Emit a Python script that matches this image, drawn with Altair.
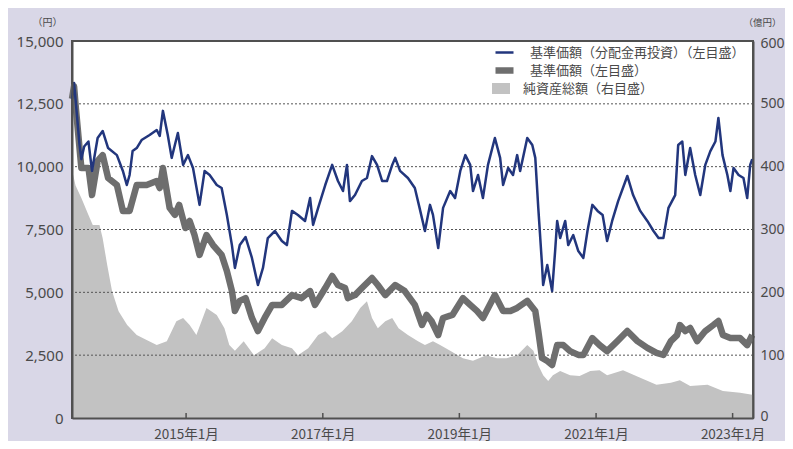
import altair as alt
import pandas as pd

FONT = "Noto Sans CJK JP"
NUM_FONT = "Noto Sans"

NAV_RE_LABEL = "基準価額（分配金再投資）（左目盛）"
NAV_LABEL = "基準価額（左目盛）"
AUM_LABEL = "純資産総額（右目盛）"

# 基準価額(分配金再投資) (円)
nav_reinvested = [
    ("2013-05-01", 12700), ("2013-05-12", 13330), ("2013-05-22", 12500),
    ("2013-06-10", 10900), ("2013-06-20", 10300), ("2013-07-05", 10800),
    ("2013-07-28", 11000), ("2013-08-16", 9830), ("2013-09-15", 11140),
    ("2013-10-12", 11420), ("2013-11-10", 10740), ("2013-12-27", 10460),
    ("2014-01-28", 9830), ("2014-02-18", 9270), ("2014-03-05", 9670),
    ("2014-03-21", 10620), ("2014-04-12", 10740), ("2014-05-08", 11060),
    ("2014-06-20", 11260), ("2014-07-28", 11460), ("2014-08-13", 11220),
    ("2014-08-30", 12220), ("2014-09-25", 11260), ("2014-10-16", 10350),
    ("2014-11-02", 10860), ("2014-11-18", 11340), ("2014-12-16", 10070),
    ("2015-01-11", 10460), ("2015-02-07", 9950), ("2015-03-14", 8480),
    ("2015-04-10", 9830), ("2015-05-07", 9670), ("2015-06-14", 9270),
    ("2015-07-10", 9150), ("2015-08-07", 8080), ("2015-09-03", 6880),
    ("2015-09-19", 5970), ("2015-10-15", 6880), ("2015-11-15", 7200),
    ("2015-12-19", 6370), ("2016-01-20", 5290), ("2016-02-16", 5970),
    ("2016-03-13", 7160), ("2016-04-20", 7440), ("2016-05-27", 7040),
    ("2016-06-23", 6880), ("2016-07-20", 8240), ("2016-08-21", 8080),
    ("2016-09-28", 7840), ("2016-10-25", 8750), ("2016-11-10", 7680),
    ("2016-12-07", 8360), ("2017-01-14", 9270), ("2017-02-20", 10070),
    ("2017-03-23", 9430), ("2017-04-19", 9030), ("2017-05-10", 10070),
    ("2017-05-26", 8630), ("2017-06-22", 8870), ("2017-07-29", 9430),
    ("2017-08-25", 9550), ("2017-09-21", 10420), ("2017-10-18", 10070),
    ("2017-11-14", 9430), ("2017-12-10", 9430), ("2018-01-07", 10070),
    ("2018-01-23", 10350), ("2018-02-18", 9830), ("2018-04-01", 9550),
    ("2018-05-08", 9150), ("2018-06-01", 8400), ("2018-07-01", 7440),
    ("2018-07-28", 8480), ("2018-08-13", 8080), ("2018-09-10", 6760),
    ("2018-10-06", 8360), ("2018-11-13", 9030), ("2018-12-09", 8750),
    ("2019-01-06", 9830), ("2019-02-02", 10460), ("2019-02-28", 10070),
    ("2019-03-15", 9030), ("2019-04-11", 9670), ("2019-05-07", 8750),
    ("2019-06-03", 10070), ("2019-07-10", 11140), ("2019-08-07", 10350),
    ("2019-08-23", 9270), ("2019-09-19", 9950), ("2019-10-15", 9670),
    ("2019-11-06", 10460), ("2019-11-22", 9830), ("2019-12-30", 11140),
    ("2020-01-26", 10860), ("2020-02-11", 10350), ("2020-02-27", 8360),
    ("2020-03-18", 6090), ("2020-03-24", 5290), ("2020-04-15", 6090),
    ("2020-05-11", 5050), ("2020-05-27", 6640), ("2020-06-07", 7840),
    ("2020-06-23", 7160), ("2020-07-20", 7840), ("2020-08-05", 6880),
    ("2020-09-01", 7280), ("2020-09-28", 6640), ("2020-10-25", 6370),
    ("2020-11-16", 7440), ("2020-12-12", 8480), ("2021-01-09", 8240),
    ("2021-02-05", 8080), ("2021-03-01", 7040), ("2021-03-28", 7840),
    ("2021-04-29", 8630), ("2021-06-17", 9630), ("2021-07-18", 8870),
    ("2021-08-25", 8240), ("2021-10-02", 7840), ("2021-11-04", 7440),
    ("2021-12-01", 7160), ("2021-12-27", 7160), ("2022-01-23", 8360),
    ("2022-02-28", 8870), ("2022-03-16", 10860), ("2022-04-07", 11000),
    ("2022-04-23", 9670), ("2022-05-19", 10740), ("2022-06-15", 9670),
    ("2022-07-12", 8870), ("2022-08-08", 10070), ("2022-09-04", 10620),
    ("2022-10-01", 11000), ("2022-10-17", 11940), ("2022-11-08", 10460),
    ("2022-12-04", 9670), ("2022-12-20", 9030), ("2023-01-06", 9950),
    ("2023-02-02", 9670), ("2023-02-28", 9550), ("2023-03-20", 8750),
    ("2023-04-05", 10070), ("2023-04-16", 10300),
]

# 基準価額 (円)
nav = [
    ("2013-05-01", 12700), ("2013-05-12", 13200), ("2013-05-22", 12300),
    ("2013-06-20", 9950), ("2013-07-28", 9950), ("2013-08-16", 8870),
    ("2013-09-15", 10230), ("2013-10-12", 10460), ("2013-11-10", 9550),
    ("2013-12-27", 9270), ("2014-01-28", 8240), ("2014-03-05", 8240),
    ("2014-04-12", 9270), ("2014-06-04", 9270), ("2014-07-28", 9430),
    ("2014-08-13", 9150), ("2014-08-30", 9950), ("2014-10-05", 8360),
    ("2014-11-02", 8080), ("2014-11-25", 8480), ("2014-12-28", 7560),
    ("2015-01-20", 7840), ("2015-02-15", 7280), ("2015-03-14", 6490),
    ("2015-04-20", 7280), ("2015-05-25", 6880), ("2015-07-10", 6490),
    ("2015-08-07", 5850), ("2015-09-03", 5050), ("2015-09-19", 4260),
    ("2015-10-15", 4660), ("2015-11-15", 4770), ("2015-12-19", 3980),
    ("2016-01-20", 3460), ("2016-02-25", 3980), ("2016-04-05", 4500),
    ("2016-05-27", 4500), ("2016-07-20", 4890), ("2016-09-10", 4770),
    ("2016-10-25", 5050), ("2016-11-20", 4500), ("2017-01-14", 5170),
    ("2017-02-20", 5650), ("2017-03-23", 5290), ("2017-04-30", 5170),
    ("2017-05-15", 4770), ("2017-06-22", 4890), ("2017-07-29", 5170),
    ("2017-09-21", 5570), ("2017-10-22", 5290), ("2017-12-01", 4890),
    ("2018-01-23", 5290), ("2018-03-15", 5050), ("2018-05-08", 4500),
    ("2018-06-15", 3700), ("2018-07-10", 4100), ("2018-08-05", 3860),
    ("2018-09-10", 3300), ("2018-10-06", 3980), ("2018-11-25", 4100),
    ("2019-01-20", 4770), ("2019-02-28", 4500), ("2019-04-05", 4260),
    ("2019-05-07", 3980), ("2019-07-10", 4890), ("2019-08-23", 4260),
    ("2019-10-01", 4260), ("2019-11-06", 4380), ("2019-12-30", 4660),
    ("2020-02-11", 4260), ("2020-02-27", 3460), ("2020-03-18", 2390),
    ("2020-04-15", 2270), ("2020-05-11", 2110), ("2020-06-07", 2900),
    ("2020-07-10", 2900), ("2020-08-15", 2660), ("2020-09-28", 2510),
    ("2020-10-25", 2510), ("2020-12-12", 3180), ("2021-01-20", 2900),
    ("2021-03-01", 2660), ("2021-04-25", 3060), ("2021-06-17", 3460),
    ("2021-08-10", 3060), ("2021-10-02", 2790), ("2021-11-20", 2590),
    ("2021-12-27", 2510), ("2022-02-05", 3060), ("2022-03-10", 3300),
    ("2022-03-25", 3700), ("2022-04-23", 3460), ("2022-05-19", 3580),
    ("2022-06-25", 3060), ("2022-08-08", 3460), ("2022-09-20", 3700),
    ("2022-10-17", 3860), ("2022-11-10", 3300), ("2022-12-20", 3180),
    ("2023-02-10", 3180), ("2023-03-20", 2900), ("2023-04-16", 3300),
]

# 純資産総額 (億円)
aum = [
    ("2013-05-01", 395), ("2013-05-20", 370), ("2013-06-20", 350),
    ("2013-07-28", 323), ("2013-08-20", 307), ("2013-09-25", 307),
    ("2013-10-12", 286), ("2013-11-05", 244), ("2013-12-01", 202),
    ("2014-01-05", 170), ("2014-02-20", 148), ("2014-04-12", 132),
    ("2014-06-04", 124), ("2014-07-28", 116), ("2014-09-20", 122),
    ("2014-11-10", 154), ("2014-12-16", 159), ("2015-01-20", 148),
    ("2015-02-25", 132), ("2015-04-20", 175), ("2015-06-14", 164),
    ("2015-07-25", 143), ("2015-08-20", 116), ("2015-09-19", 107),
    ("2015-11-05", 122), ("2015-12-30", 100), ("2016-02-25", 111),
    ("2016-04-05", 127), ("2016-05-27", 116), ("2016-07-20", 111),
    ("2016-08-21", 100), ("2016-10-15", 111), ("2016-12-07", 132),
    ("2017-01-14", 138), ("2017-02-20", 127), ("2017-04-15", 138),
    ("2017-06-05", 154), ("2017-07-20", 175), ("2017-08-25", 186),
    ("2017-09-21", 159), ("2017-10-22", 143), ("2017-12-01", 154),
    ("2018-01-07", 159), ("2018-02-10", 143), ("2018-04-01", 132),
    ("2018-05-25", 122), ("2018-07-01", 116), ("2018-08-13", 122),
    ("2018-09-20", 116), ("2018-11-13", 107), ("2019-01-20", 95),
    ("2019-03-15", 91), ("2019-05-25", 100), ("2019-07-20", 95),
    ("2019-09-10", 95), ("2019-11-06", 100), ("2019-12-30", 116),
    ("2020-02-01", 107), ("2020-02-27", 84), ("2020-03-24", 68),
    ("2020-04-20", 59), ("2020-05-15", 68), ("2020-06-23", 75),
    ("2020-08-15", 68), ("2020-10-05", 67), ("2020-12-01", 75),
    ("2021-01-20", 76), ("2021-03-01", 68), ("2021-05-25", 76),
    ("2021-08-25", 64), ("2021-11-20", 53), ("2022-02-05", 56),
    ("2022-03-25", 60), ("2022-05-19", 51), ("2022-08-20", 53),
    ("2022-11-10", 43), ("2023-02-10", 40), ("2023-04-16", 37),
]

x_domain = ["2013-05-01", "2023-04-20"]
tick_years = [2015, 2017, 2019, 2021, 2023]
left_ticks = [0, 2500, 5000, 7500, 10000, 12500, 15000]
grid_values = [2500, 5000, 7500, 10000, 12500]
right_ticks = [0, 100, 200, 300, 400, 500, 600]

re_df = pd.DataFrame(nav_reinvested, columns=["date", "value"])
re_df["series"] = NAV_RE_LABEL
nav_df = pd.DataFrame(nav, columns=["date", "value"])
nav_df["series"] = NAV_LABEL
aum_df = pd.DataFrame(aum, columns=["date", "aum"])
aum_df["label"] = AUM_LABEL
grid_df = pd.DataFrame({"v": grid_values})
tick_df = pd.DataFrame({"date": [f"{y}-01-01" for y in tick_years]})

W, H = 681, 377
BORDER = "#505050"
TEXT = "#4a4a4a"

x_enc = alt.X(
    "date:T",
    scale=alt.Scale(domain=x_domain),
    axis=alt.Axis(
        values=[alt.DateTime(year=y, month=1, date=1) for y in tick_years],
        format="%Y年%-m月",
        labelFont=FONT, labelFontSize=13.5, labelColor=TEXT,
        tickSize=0, labelPadding=9, grid=False,
        domain=True, domainColor=BORDER, domainWidth=2, zindex=1,
        title=None,
    ),
)

left_axis = alt.Axis(
    orient="left", values=left_ticks, format=",d",
    labelFont=NUM_FONT, labelFontSize=15, labelColor=TEXT,
    tickSize=0, labelPadding=9, grid=False,
    domain=True, domainColor=BORDER, domainWidth=2, zindex=1,
    title="（円）", titleAngle=0, titleAlign="right", titleBaseline="alphabetic",
    titleX=-10, titleY=-16, titleFont=FONT, titleFontSize=10,
    titleFontWeight="normal", titleColor=TEXT,
)
left_scale = alt.Scale(domain=[0, 15000], nice=False)

right_axis = alt.Axis(
    orient="right", values=right_ticks, format="d",
    labelFont=NUM_FONT, labelFontSize=14, labelColor=TEXT,
    tickSize=0, labelPadding=7, grid=False,
    labelFlush=True, labelFlushOffset=5,
    domain=True, domainColor=BORDER, domainWidth=2, zindex=1,
    title="（億円）", titleAngle=0, titleAlign="left", titleBaseline="alphabetic",
    titleX=-10, titleY=-16, titleFont=FONT, titleFontSize=9.5,
    titleFontWeight="normal", titleColor=TEXT,
)

line_legend = alt.Legend(
    orient="none", legendX=420, legendY=5, title=None,
    symbolType="stroke", symbolSize=324, labelOffset=13, clipHeight=13,
    labelLimit=320, labelFont=FONT, labelFontSize=13, labelColor=TEXT,
    rowPadding=4,
)
line_color = alt.Color(
    "series:N",
    scale=alt.Scale(domain=[NAV_RE_LABEL, NAV_LABEL], range=["#22367d", "#6e6e6e"]),
    legend=line_legend,
)
line_width = alt.StrokeWidth(
    "series:N",
    scale=alt.Scale(domain=[NAV_RE_LABEL, NAV_LABEL], range=[2.5, 6.5]),
    legend=line_legend,
)

area = alt.Chart(aum_df).mark_area(interpolate="linear").encode(
    x=x_enc,
    y=alt.Y("aum:Q", scale=alt.Scale(domain=[0, 600], nice=False), axis=right_axis),
    fill=alt.Fill(
        "label:N",
        scale=alt.Scale(domain=[AUM_LABEL], range=["#c2c2c2"]),
        legend=alt.Legend(
            orient="none", legendX=420, legendY=41, title=None,
            symbolType="M-1,-0.6L1,-0.6L1,0.6L-1,0.6Z", symbolSize=324,
            symbolStrokeWidth=0, labelOffset=13, clipHeight=13, labelLimit=320,
            labelFont=FONT, labelFontSize=13, labelColor=TEXT,
        ),
    ),
)

grid = alt.Chart(grid_df).mark_rule(color="#555555", strokeWidth=1, strokeDash=[2, 2]).encode(
    y=alt.Y("v:Q", scale=left_scale, axis=left_axis),
)

gray_line = alt.Chart(nav_df).mark_line(strokeJoin="round").encode(
    x=x_enc,
    y=alt.Y("value:Q", scale=left_scale, axis=left_axis),
    color=line_color,
    strokeWidth=line_width,
)

blue_line = alt.Chart(re_df).mark_line(strokeJoin="round").encode(
    x=x_enc,
    y=alt.Y("value:Q", scale=left_scale, axis=left_axis),
    color=line_color,
    strokeWidth=line_width,
)

left_group = alt.layer(grid, gray_line, blue_line)

ticks = alt.Chart(tick_df).mark_rule(color=BORDER, strokeWidth=1.5).encode(
    x=x_enc,
    y=alt.value(H - 5),
    y2=alt.value(H),
)

chart = alt.layer(area, left_group, ticks).resolve_scale(
    y="independent"
).properties(
    width=W, height=H,
    autosize=alt.AutoSizeParams(type="none"),
    padding={"left": 64, "top": 33, "right": 32, "bottom": 23},
).configure(
    background="#d9d7e7",
).configure_view(
    fill="white", stroke=BORDER, strokeWidth=2,
)

chart.save("out.html", embed_options={"renderer": "svg", "actions": False})
